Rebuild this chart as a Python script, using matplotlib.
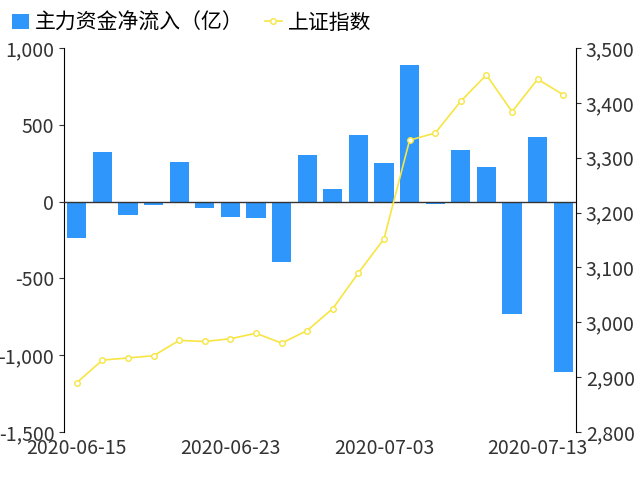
import matplotlib.pyplot as plt
import matplotlib.ticker as mticker
import numpy as np

plt.rcParams['font.family'] = ['Noto Sans CJK SC', 'DejaVu Sans']

dates = ['2020-06-15', '2020-06-16', '2020-06-17', '2020-06-18', '2020-06-19',
         '2020-06-22', '2020-06-23', '2020-06-24', '2020-06-29', '2020-06-30',
         '2020-07-01', '2020-07-02', '2020-07-03', '2020-07-06', '2020-07-07',
         '2020-07-08', '2020-07-09', '2020-07-10', '2020-07-13', '2020-07-14']
flow = [-240, 325, -90, -25, 260, -40, -100, -110, -390, 305,
        80, 435, 250, 890, -15, 335, 225, -735, 420, -1110]
index_sh = [2890, 2931, 2935, 2939, 2967, 2965, 2970, 2980, 2962, 2985,
            3025, 3090, 3152, 3332, 3345, 3403, 3451, 3384, 3443, 3415]

x = np.arange(len(dates))
fig, ax = plt.subplots(figsize=(6.4, 4.8), dpi=100)
fig.subplots_adjust(left=0.1, right=0.9, top=0.9, bottom=0.1)

bars = ax.bar(x, flow, width=0.75, color='#2f96fc', label='主力资金净流入（亿）', zorder=2)
ax.set_ylim(-1500, 1000)
ax.set_xlim(-0.5, len(x) - 0.5)
ax.yaxis.set_major_locator(mticker.MultipleLocator(500))
ax.yaxis.set_major_formatter(mticker.FuncFormatter(lambda v, p: f'{int(v):,}'))
ax.axhline(0, color='#333333', lw=1, zorder=3)
ax.set_xticks(x[::6])
ax.set_xticklabels(dates[::6])
ax.tick_params(axis='x', length=0, labelsize=14, colors='#333333', pad=4)
ax.tick_params(axis='y', labelsize=14, colors='#333333')
for s in ['top', 'right', 'bottom']:
    ax.spines[s].set_visible(False)

ax2 = ax.twinx()
line, = ax2.plot(x, index_sh, color='#f7e543', lw=1.2, marker='o', ms=4,
                 mfc='white', mec='#f7e543', label='上证指数')
ax2.set_ylim(2800, 3500)
ax2.yaxis.set_major_locator(mticker.MultipleLocator(100))
ax2.yaxis.set_major_formatter(mticker.FuncFormatter(lambda v, p: f'{int(v):,}'))
ax2.tick_params(axis='y', labelsize=14, colors='#333333')
for s in ['top', 'left', 'bottom']:
    ax2.spines[s].set_visible(False)

fig.legend(handles=[bars, line], loc='upper left', bbox_to_anchor=(-0.01, 1.015),
           ncol=2, frameon=False, fontsize=15, handlelength=0.8,
           columnspacing=1.0, handletextpad=0.3)

fig.savefig('out.png')
